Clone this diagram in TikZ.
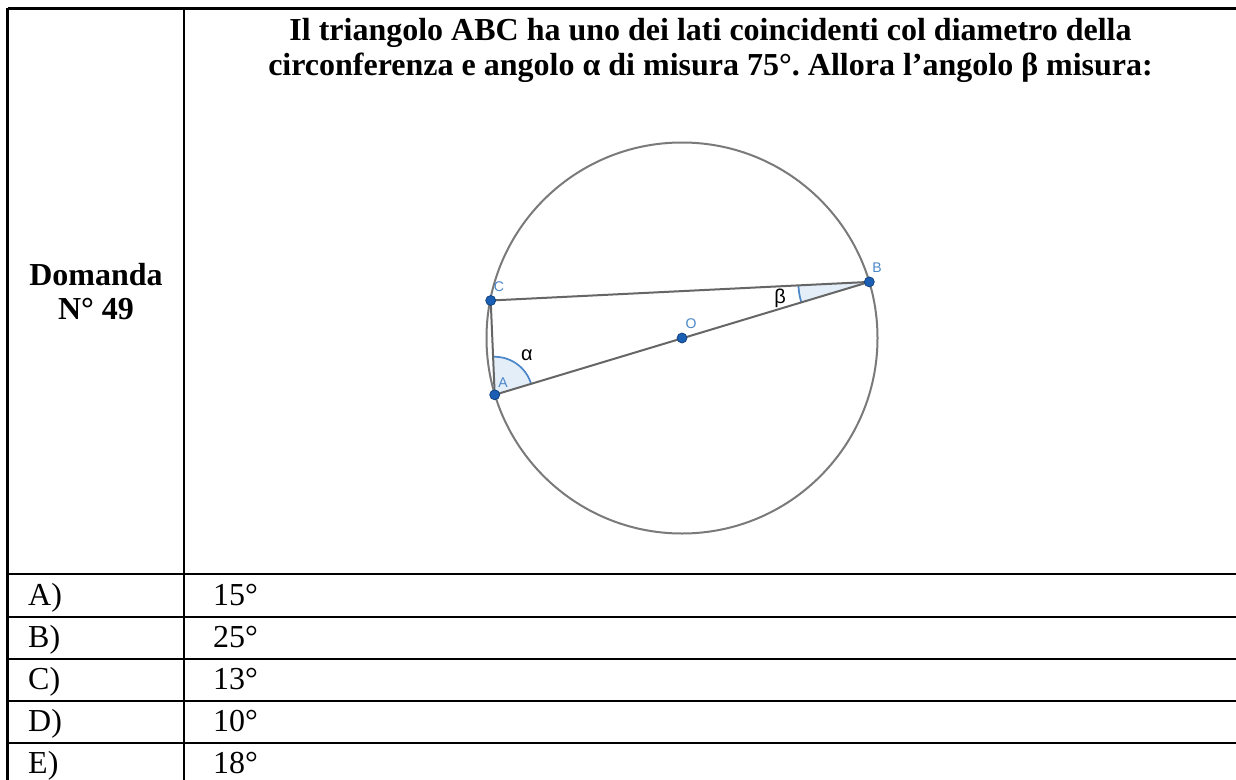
\documentclass[tikz,border=0pt]{standalone}
\usepackage{fontspec}
\setmainfont{Liberation Serif}
\newfontfamily\geofont{Liberation Sans}
\usetikzlibrary{angles}
\frenchspacing
\definecolor{ggline}{HTML}{666666}
\definecolor{ggcirc}{HTML}{7A7A7A}
\definecolor{ggblue}{HTML}{1A5FB4}
\definecolor{ggdark}{HTML}{0F3F7A}
\definecolor{gglab}{HTML}{4A86C8}
\definecolor{ggfill}{HTML}{E3EEF9}
\begin{document}
\begin{tikzpicture}[x=1pt,y=-1pt,
  tbl/.style={line width=2.3pt,black},
  txt/.style={font=\fontsize{32}{35}\selectfont,anchor=base west,inner sep=0},
  ttl/.style={font=\fontsize{32}{35}\selectfont\bfseries,anchor=base,inner sep=0},
  ptdot/.style={circle,fill=ggblue,draw=ggdark,line width=0.7pt,inner sep=0,minimum size=10pt},
  ptlab/.style={font=\geofont\fontsize{14}{14}\selectfont,text=gglab,inner sep=0},
  anglab/.style={font=\geofont\fontsize{20}{20}\selectfont,text=black,inner sep=0},
  seg/.style={ggline,line width=2pt},
  angmark/.style={draw=gglab,fill=ggfill,line width=1.7pt}]
\useasboundingbox (0,0) rectangle (1236,779);
\fill[white] (0,0) rectangle (1236,779);
% table
\draw[tbl] (7.5,8.5) -- (1237,8.5);
\draw[tbl] (7.5,7.5) -- (7.5,780);
\draw[tbl] (184,7.5) -- (184,780);
\foreach \yy in {574.3,616.7,658.7,700.7,742.7}
  \draw[tbl] (6.5,\yy) -- (1237,\yy);
% header texts
\node[ttl] (t1) at (710.5,40) {Il triangolo ABC ha uno dei lati coincidenti col diametro della};
\node[ttl] (t2) at (710.5,75) {circonferenza e angolo α di misura 75°. Allora l’angolo β misura:};
\node[ttl] (d1) at (96,285) {Domanda};
\node[ttl] (d2) at (96,319) {N° 49};
% answers
\node[txt] (la) at (28,605) {A)};
\node[txt] (lb) at (28,647.2) {B)};
\node[txt] (lc) at (28,689.2) {C)};
\node[txt] (ld) at (28,731.2) {D)};
\node[txt] (le) at (28,773.2) {E)};
\node[txt] (va) at (213,605) {15°};
\node[txt] (vb) at (213,647.2) {25°};
\node[txt] (vc) at (213,689.2) {13°};
\node[txt] (vd) at (213,731.2) {10°};
\node[txt] (ve) at (213,773.2) {18°};
% figure
\coordinate (O) at (682,338);
\coordinate (B) at (869.3,281.9);
\coordinate (A) at (494.7,394.8);
\coordinate (C) at (490.7,300.5);
\pic[angmark,angle radius=38pt] {angle = B--A--C};
\pic[angmark,angle radius=71pt] {angle = C--B--A};
\draw[seg] (A) -- (B);
\draw[seg] (B) -- (C);
\draw[seg] (C) -- (A);
\draw[ggcirc,line width=2pt] (O) circle[radius=195.5];
\node[ptdot] (dA) at (A) {};
\node[ptdot] (dB) at (B) {};
\node[ptdot] (dC) at (C) {};
\node[ptdot] (dO) at (O) {};
\node[ptlab] (lA) at (503,383) {A};
\node[ptlab] (lB) at (877,268) {B};
\node[ptlab] (lC) at (499,287) {C};
\node[ptlab] (lO) at (691,324) {O};
\node[anglab] (al) at (527,355) {α};
\node[anglab] (be) at (780,298) {β};
\end{tikzpicture}
\end{document}
